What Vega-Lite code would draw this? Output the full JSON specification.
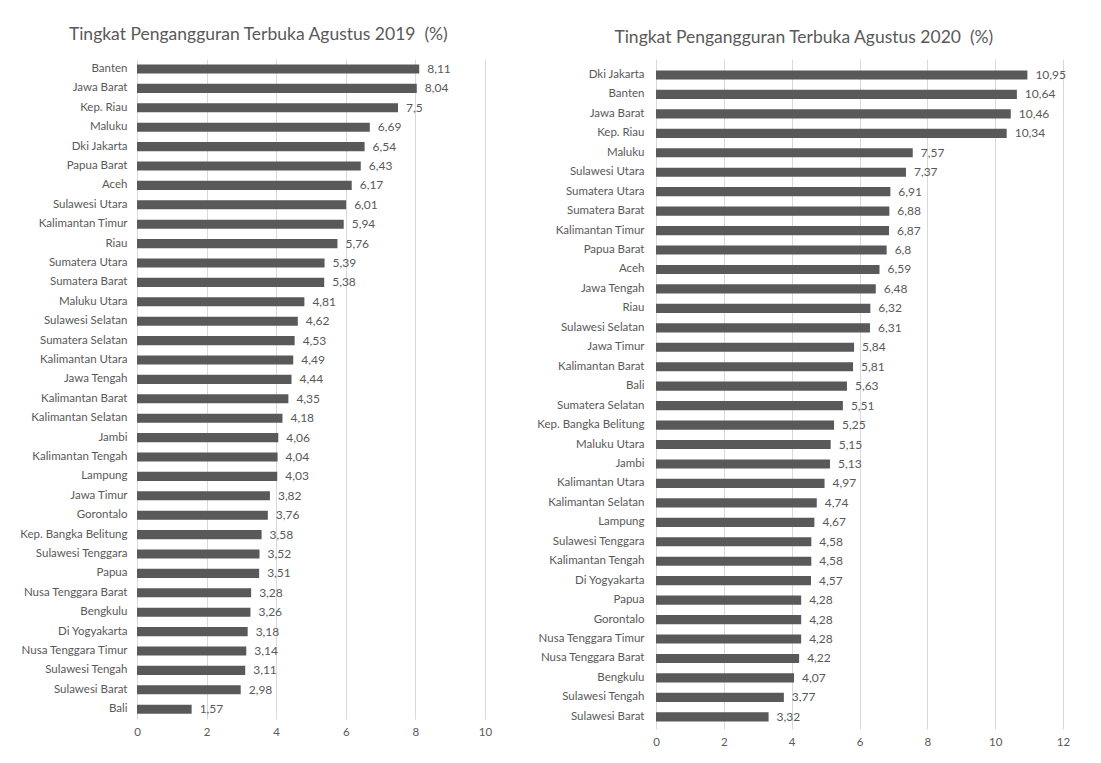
{
  "$schema": "https://vega.github.io/schema/vega-lite/v6.json",
  "padding": {"left": 5, "top": 25, "right": 5, "bottom": 5},
  "background": "white",
  "datasets": {
    "d2019": [
      {"provinsi": "Banten", "tpt": 8.11},
      {"provinsi": "Jawa Barat", "tpt": 8.04},
      {"provinsi": "Kep. Riau", "tpt": 7.5},
      {"provinsi": "Maluku", "tpt": 6.69},
      {"provinsi": "Dki Jakarta", "tpt": 6.54},
      {"provinsi": "Papua Barat", "tpt": 6.43},
      {"provinsi": "Aceh", "tpt": 6.17},
      {"provinsi": "Sulawesi Utara", "tpt": 6.01},
      {"provinsi": "Kalimantan Timur", "tpt": 5.94},
      {"provinsi": "Riau", "tpt": 5.76},
      {"provinsi": "Sumatera Utara", "tpt": 5.39},
      {"provinsi": "Sumatera Barat", "tpt": 5.38},
      {"provinsi": "Maluku Utara", "tpt": 4.81},
      {"provinsi": "Sulawesi Selatan", "tpt": 4.62},
      {"provinsi": "Sumatera Selatan", "tpt": 4.53},
      {"provinsi": "Kalimantan Utara", "tpt": 4.49},
      {"provinsi": "Jawa Tengah", "tpt": 4.44},
      {"provinsi": "Kalimantan Barat", "tpt": 4.35},
      {"provinsi": "Kalimantan Selatan", "tpt": 4.18},
      {"provinsi": "Jambi", "tpt": 4.06},
      {"provinsi": "Kalimantan Tengah", "tpt": 4.04},
      {"provinsi": "Lampung", "tpt": 4.03},
      {"provinsi": "Jawa Timur", "tpt": 3.82},
      {"provinsi": "Gorontalo", "tpt": 3.76},
      {"provinsi": "Kep. Bangka Belitung", "tpt": 3.58},
      {"provinsi": "Sulawesi Tenggara", "tpt": 3.52},
      {"provinsi": "Papua", "tpt": 3.51},
      {"provinsi": "Nusa Tenggara Barat", "tpt": 3.28},
      {"provinsi": "Bengkulu", "tpt": 3.26},
      {"provinsi": "Di Yogyakarta", "tpt": 3.18},
      {"provinsi": "Nusa Tenggara Timur", "tpt": 3.14},
      {"provinsi": "Sulawesi Tengah", "tpt": 3.11},
      {"provinsi": "Sulawesi Barat", "tpt": 2.98},
      {"provinsi": "Bali", "tpt": 1.57}
    ],
    "d2020": [
      {"provinsi": "Dki Jakarta", "tpt": 10.95},
      {"provinsi": "Banten", "tpt": 10.64},
      {"provinsi": "Jawa Barat", "tpt": 10.46},
      {"provinsi": "Kep. Riau", "tpt": 10.34},
      {"provinsi": "Maluku", "tpt": 7.57},
      {"provinsi": "Sulawesi Utara", "tpt": 7.37},
      {"provinsi": "Sumatera Utara", "tpt": 6.91},
      {"provinsi": "Sumatera Barat", "tpt": 6.88},
      {"provinsi": "Kalimantan Timur", "tpt": 6.87},
      {"provinsi": "Papua Barat", "tpt": 6.8},
      {"provinsi": "Aceh", "tpt": 6.59},
      {"provinsi": "Jawa Tengah", "tpt": 6.48},
      {"provinsi": "Riau", "tpt": 6.32},
      {"provinsi": "Sulawesi Selatan", "tpt": 6.31},
      {"provinsi": "Jawa Timur", "tpt": 5.84},
      {"provinsi": "Kalimantan Barat", "tpt": 5.81},
      {"provinsi": "Bali", "tpt": 5.63},
      {"provinsi": "Sumatera Selatan", "tpt": 5.51},
      {"provinsi": "Kep. Bangka Belitung", "tpt": 5.25},
      {"provinsi": "Maluku Utara", "tpt": 5.15},
      {"provinsi": "Jambi", "tpt": 5.13},
      {"provinsi": "Kalimantan Utara", "tpt": 4.97},
      {"provinsi": "Kalimantan Selatan", "tpt": 4.74},
      {"provinsi": "Lampung", "tpt": 4.67},
      {"provinsi": "Sulawesi Tenggara", "tpt": 4.58},
      {"provinsi": "Kalimantan Tengah", "tpt": 4.58},
      {"provinsi": "Di Yogyakarta", "tpt": 4.57},
      {"provinsi": "Papua", "tpt": 4.28},
      {"provinsi": "Gorontalo", "tpt": 4.28},
      {"provinsi": "Nusa Tenggara Timur", "tpt": 4.28},
      {"provinsi": "Nusa Tenggara Barat", "tpt": 4.22},
      {"provinsi": "Bengkulu", "tpt": 4.07},
      {"provinsi": "Sulawesi Tengah", "tpt": 3.77},
      {"provinsi": "Sulawesi Barat", "tpt": 3.32}
    ]
  },
  "spacing": 44,
  "hconcat": [
    {
      "data": {"name": "d2019"},
      "width": 348,
      "height": 660,
      "title": {"text": "Tingkat Pengangguran Terbuka Agustus 2019 \u00a0(%)", "offset": 16, "dx": 10},
      "encoding": {
        "y": {
          "field": "provinsi", "type": "nominal", "sort": null, "title": null,
          "scale": {"paddingInner": 0.53, "paddingOuter": 0.275, "align": 0.51},
          "axis": {"minExtent": 132, "maxExtent": 132, "labelPadding": 10}
        },
        "x": {
          "field": "tpt", "type": "quantitative", "title": null,
          "scale": {"domain": [0, 10], "nice": false},
          "axis": {"values": [0, 2, 4, 6, 8, 10], "labelPadding": 7, "labelFlush": false}
        }
      },
      "layer": [
        {"mark": {"type": "bar", "color": "#595959"}},
        {"mark": {"type": "text", "align": "left", "dx": 8, "fontSize": 12, "color": "#595959", "font": "Lato"},
         "encoding": {"text": {"field": "tpt", "type": "quantitative", "format": "~g"}}}
      ]
    },
    {
      "data": {"name": "d2020"},
      "width": 407,
      "height": 670,
      "title": {"text": "Tingkat Pengangguran Terbuka Agustus 2020 \u00a0(%)", "offset": 13, "dx": 1},
      "encoding": {
        "y": {
          "field": "provinsi", "type": "nominal", "sort": null, "title": null,
          "scale": {"paddingInner": 0.53, "paddingOuter": 0.489, "align": 0.6},
          "axis": {"minExtent": 120, "maxExtent": 120, "labelPadding": 12}
        },
        "x": {
          "field": "tpt", "type": "quantitative", "title": null,
          "scale": {"domain": [0, 12], "nice": false},
          "axis": {"values": [0, 2, 4, 6, 8, 10, 12], "labelPadding": 7, "labelFlush": false}
        }
      },
      "layer": [
        {"mark": {"type": "bar", "color": "#595959"}},
        {"mark": {"type": "text", "align": "left", "dx": 8, "fontSize": 12, "color": "#595959", "font": "Lato"},
         "encoding": {"text": {"field": "tpt", "type": "quantitative", "format": "~g"}}}
      ]
    }
  ],
  "config": {
    "locale": {"number": {"decimal": ",", "thousands": ".", "grouping": [3], "currency": ["", ""]}},
    "font": "Lato",
    "view": {"stroke": null},
    "title": {"fontSize": 17.5, "fontWeight": "normal", "color": "#595959", "font": "Lato", "anchor": "middle", "frame": "bounds"},
    "axis": {
      "domain": false, "ticks": false,
      "labelFont": "Lato", "labelFontSize": 11.5, "labelColor": "#595959",
      "gridColor": "#d9d9d9", "gridWidth": 1
    },
    "axisY": {"grid": false},
    "axisX": {"grid": true}
  }
}
